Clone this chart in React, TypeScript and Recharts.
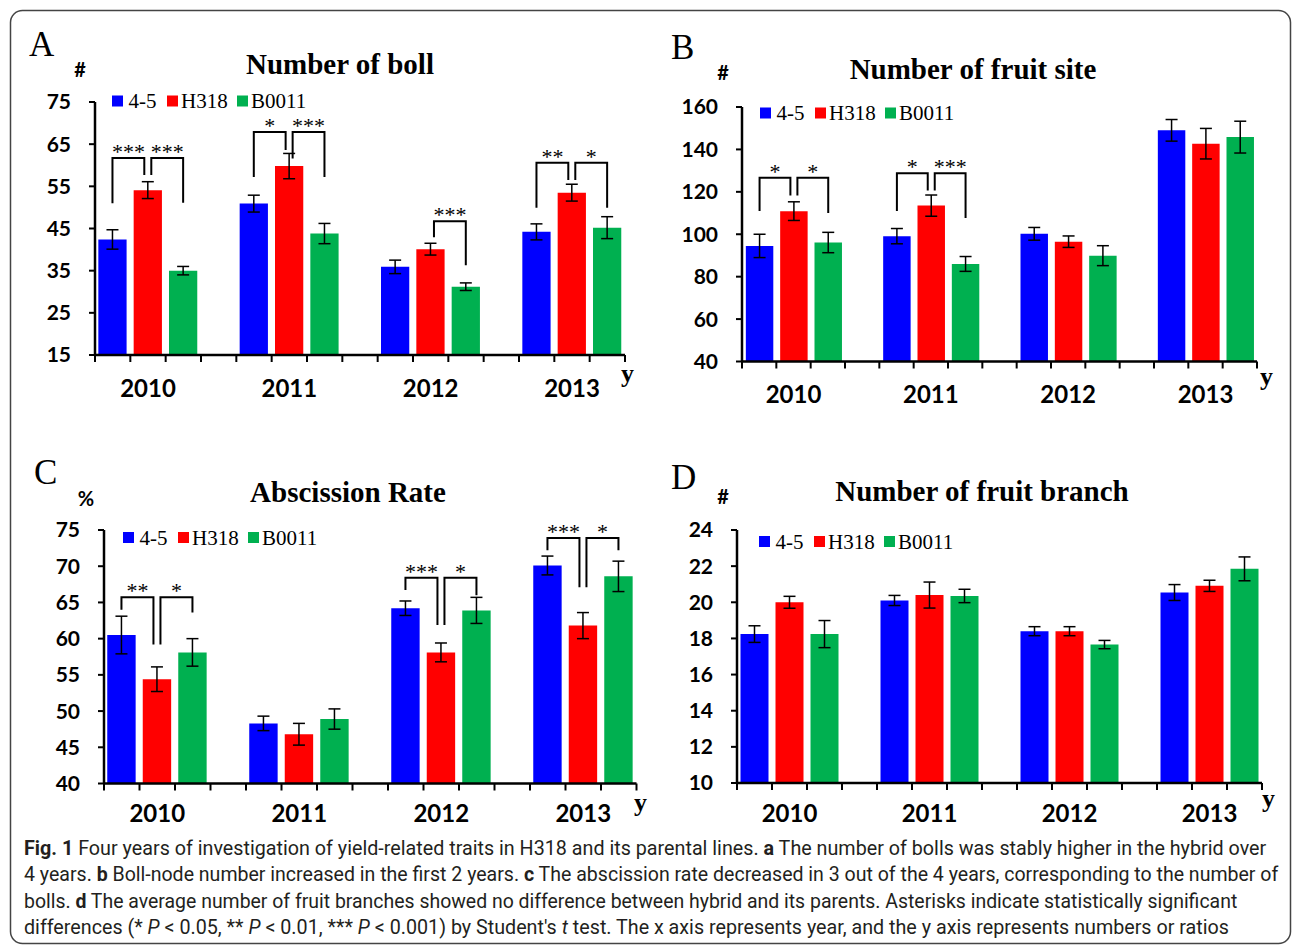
import React, { useLayoutEffect, useRef, useState } from 'react';
import { BarChart, Bar, XAxis, YAxis, ErrorBar } from 'recharts';

// ---------- shared ----------
const years = ['2010', '2011', '2012', '2013'];
const seriesNames = ['4-5', 'H318', 'B0011'];
const seriesColors = ['#0000FF', '#FF0000', '#00B050'];

// ---------- Panel A: Number of boll ----------
const bollMean45 = [42.4, 50.9, 35.9, 44.2];
const bollMeanH318 = [54.1, 59.8, 40.1, 53.5];
const bollMeanB0011 = [35.0, 43.8, 31.2, 45.2];
const bollErr45 = [2.3, 2.0, 1.6, 1.9];
const bollErrH318 = [2.0, 3.0, 1.4, 2.0];
const bollErrB0011 = [1.0, 2.4, 0.9, 2.6];
const bollTicks = [15, 25, 35, 45, 55, 65, 75];
const bollBrackets = [
  { year: 0, side: 'L', stars: '***', top: 61.7, outer: 51.0, inner: 57.7 },
  { year: 0, side: 'R', stars: '***', top: 61.7, outer: 51.1, inner: 57.7 },
  { year: 1, side: 'L', stars: '*', top: 67.9, outer: 57.2, inner: 63.6 },
  { year: 1, side: 'R', stars: '***', top: 67.9, outer: 57.2, inner: 61.6 },
  { year: 2, side: 'R', stars: '***', top: 46.7, outer: 36.3, inner: 42.9 },
  { year: 3, side: 'L', stars: '**', top: 60.6, outer: 49.9, inner: 56.5 },
  { year: 3, side: 'R', stars: '*', top: 60.6, outer: 49.9, inner: 56.5 },
];

// ---------- Panel B: Number of fruit site ----------
const siteMean45 = [94.5, 99.1, 100.2, 149.0];
const siteMeanH318 = [110.9, 113.5, 96.5, 142.7];
const siteMeanB0011 = [96.1, 86.0, 89.9, 145.8];
const siteErr45 = [5.5, 3.6, 3.0, 5.1];
const siteErrH318 = [4.4, 5.0, 2.7, 7.2];
const siteErrB0011 = [4.8, 3.5, 4.7, 7.5];
const siteTicks = [40, 60, 80, 100, 120, 140, 160];
const siteBrackets = [
  { year: 0, side: 'L', stars: '*', top: 126.6, outer: 111, inner: 118.3 },
  { year: 0, side: 'R', stars: '*', top: 126.6, outer: 110, inner: 118.3 },
  { year: 1, side: 'L', stars: '*', top: 128.8, outer: 111, inner: 120.6 },
  { year: 1, side: 'R', stars: '***', top: 128.8, outer: 107.7, inner: 120.6 },
];

// ---------- Panel C: Abscission Rate ----------
const absMean45 = [60.5, 48.3, 64.2, 70.1];
const absMeanH318 = [54.4, 46.8, 58.1, 61.8];
const absMeanB0011 = [58.1, 48.9, 63.9, 68.6];
const absErr45 = [2.6, 1.0, 1.0, 1.3];
const absErrH318 = [1.7, 1.5, 1.3, 1.8];
const absErrB0011 = [1.9, 1.4, 1.8, 2.1];
const absTicks = [40, 45, 50, 55, 60, 65, 70, 75];
const absBrackets = [
  { year: 0, side: 'L', stars: '**', top: 65.7, outer: 64.0, inner: 59.2 },
  { year: 0, side: 'R', stars: '*', top: 65.7, outer: 63.6, inner: 59.2 },
  { year: 2, side: 'L', stars: '***', top: 68.4, outer: 66.7, inner: 61.9 },
  { year: 2, side: 'R', stars: '*', top: 68.4, outer: 66.0, inner: 61.9 },
  { year: 3, side: 'L', stars: '***', top: 73.9, outer: 72.2, inner: 67.1 },
  { year: 3, side: 'R', stars: '*', top: 73.9, outer: 72.2, inner: 67.1 },
];

// ---------- Panel D: Number of fruit branch ----------
const branchMean45 = [18.24, 20.1, 18.4, 20.54];
const branchMeanH318 = [20.0, 20.4, 18.4, 20.91];
const branchMeanB0011 = [18.24, 20.35, 17.66, 21.85];
const branchErr45 = [0.46, 0.28, 0.25, 0.44];
const branchErrH318 = [0.33, 0.72, 0.25, 0.31];
const branchErrB0011 = [0.75, 0.37, 0.23, 0.66];
const branchTicks = [10, 12, 14, 16, 18, 20, 22, 24];
const branchBrackets: any[] = [];

// ---------- caption ----------
const captionLines = [
  [['b', 'Fig. 1'], ['n', ' Four years of investigation of yield-related traits in H318 and its parental lines. '], ['b', 'a'], ['n', ' The number of bolls was stably higher in the hybrid over']],
  [['n', '4 years. '], ['b', 'b'], ['n', ' Boll-node number increased in the first 2 years. '], ['b', 'c'], ['n', ' The abscission rate decreased in 3 out of the 4 years, corresponding to the number of']],
  [['n', 'bolls. '], ['b', 'd'], ['n', ' The average number of fruit branches showed no difference between hybrid and its parents. Asterisks indicate statistically significant']],
  [['n', 'differences (* '], ['i', 'P'], ['n', ' < 0.05, ** '], ['i', 'P'], ['n', ' < 0.01, *** '], ['i', 'P'], ['n', " < 0.001) by Student's "], ['i', 't'], ['n', ' test. The x axis represents year, and the y axis represents numbers or ratios']],
];
const captionWidths = [1242, 1254, 1213, 1205];
const captionBaselines = [855, 881, 908, 934];

// ---------- panel configs ----------
const panels = [
  {
    key: 'A', letter: 'A', letterPos: [29, 56], unit: '#', unitPos: [80, 77],
    title: 'Number of boll', titlePos: [340, 74],
    plot: { left: 95, right: 625, top: 102, bottom: 355 },
    domain: [15, 75], ticks: bollTicks,
    means: [bollMean45, bollMeanH318, bollMeanB0011],
    errs: [bollErr45, bollErrH318, bollErrB0011],
    brackets: bollBrackets, yearDy: 42, legend: [112, 101], yPos: [621, 382],
  },
  {
    key: 'B', letter: 'B', letterPos: [671, 59], unit: '#', unitPos: [723, 80],
    title: 'Number of fruit site', titlePos: [973, 79],
    plot: { left: 742, right: 1257, top: 106.5, bottom: 361 },
    domain: [40, 160], ticks: siteTicks,
    means: [siteMean45, siteMeanH318, siteMeanB0011],
    errs: [siteErr45, siteErrH318, siteErrB0011],
    brackets: siteBrackets, yearDy: 41, legend: [760, 113], yPos: [1260, 385],
  },
  {
    key: 'C', letter: 'C', letterPos: [34, 484], unit: '%', unitPos: [86, 506],
    title: 'Abscission Rate', titlePos: [348, 502],
    plot: { left: 103.5, right: 636, top: 530, bottom: 783.5 },
    domain: [40, 75], ticks: absTicks,
    means: [absMean45, absMeanH318, absMeanB0011],
    errs: [absErr45, absErrH318, absErrB0011],
    brackets: absBrackets, yearDy: 38, legend: [123, 537.5], yPos: [634, 811],
  },
  {
    key: 'D', letter: 'D', letterPos: [671, 489], unit: '#', unitPos: [723, 504],
    title: 'Number of fruit branch', titlePos: [982, 501],
    plot: { left: 737, right: 1262, top: 530, bottom: 783 },
    domain: [10, 24], ticks: branchTicks,
    means: [branchMean45, branchMeanH318, branchMeanB0011],
    errs: [branchErr45, branchErrH318, branchErrB0011],
    brackets: branchBrackets, yearDy: 39, legend: [759, 541.5], yPos: [1262, 807],
  },
];

const YW = 90;
const MT = 25;
const XH = 50;
const MR = 10;

function Panel({ cfg }: { cfg: any }) {
  const { plot, domain, ticks, means, errs, brackets, yearDy } = cfg;
  const plotW = plot.right - plot.left;
  const plotH = plot.bottom - plot.top;
  const slot = plotW / 15;
  const data = years.map((y, i) => ({
    year: y,
    s0: means[0][i], s1: means[1][i], s2: means[2][i],
    e0: errs[0][i], e1: errs[1][i], e2: errs[2][i],
  }));

  const renderYearTick = (p: any) => {
    const { x, y, payload } = p;
    const offs = [-1.5, -0.5, 0.5, 1.5];
    return (
      <g>
        {offs.map((o) => (
          <line key={o} x1={x + o * slot} x2={x + o * slot} y1={y} y2={y + 7} stroke="#000" strokeWidth={2} />
        ))}
        <text x={x} y={y + yearDy} textAnchor="middle" fontFamily="Lato" fontWeight={700} fontSize={24} fill="#000">
          {payload.value}
        </text>
      </g>
    );
  };

  const renderBrackets = (p: any) => {
    const vb = p.viewBox && typeof p.viewBox.x === 'number' ? p.viewBox : p;
    const bx = Number(vb.x), by = Number(vb.y), bw = Number(vb.width), bh = Number(vb.height);
    const idx = typeof p.index === 'number' ? p.index : means[1].indexOf(Number(p.value));
    const value = means[1][idx];
    if (idx < 0 || !isFinite(bx) || !isFinite(bh)) return <g />;
    const bottom = Math.max(by, by + bh);
    const k = Math.abs(bh) / (value - domain[0]);
    const yPx = (v: number) => bottom - (v - domain[0]) * k;
    const cx = bx + bw / 2;
    const items = brackets.filter((b: any) => b.year === idx);
    return (
      <g>
        {items.map((b: any, j: number) => {
          const outerX = b.side === 'L' ? cx - slot : cx + slot;
          const innerX = b.side === 'L' ? cx - 3.5 : cx + 3.5;
          const yt = yPx(b.top);
          const midX = (outerX + innerX) / 2;
          return (
            <g key={j}>
              <polyline
                points={`${outerX},${yPx(b.outer)} ${outerX},${yt} ${innerX},${yt} ${innerX},${yPx(b.inner)}`}
                fill="none" stroke="#000" strokeWidth={2}
              />
              <text x={midX} y={yt + 1} textAnchor="middle" fontFamily="'Liberation Serif', serif" fontSize={22} fill="#000">
                {b.stars}
              </text>
            </g>
          );
        })}
      </g>
    );
  };

  return (
    <div style={{ position: 'absolute', left: plot.left - YW, top: plot.top - MT }}>
      <BarChart
        width={plotW + YW + MR}
        height={plotH + MT + XH}
        data={data}
        margin={{ top: MT, right: MR, bottom: 0, left: 0 }}
        barGap={slot * 0.2}
      >
        <XAxis
          dataKey="year"
          type="category"
          interval={0}
          padding={{ left: -slot / 2, right: -slot / 2 }}
          axisLine={{ stroke: '#000', strokeWidth: 2.5 }}
          tickLine={false}
          tickSize={0}
          tickMargin={0}
          height={XH}
          tick={renderYearTick}
        />
        <YAxis
          type="number"
          domain={domain}
          ticks={ticks}
          interval={0}
          width={YW}
          allowDataOverflow
          axisLine={{ stroke: '#000', strokeWidth: 2.5 }}
          tickLine={{ stroke: '#000', strokeWidth: 2 }}
          tickSize={6}
          tickMargin={18}
          tick={{ fontFamily: 'Lato', fontWeight: 700, fontSize: 21, fill: '#000' }}
        />
        {[0, 1, 2].map((si) => (
          <Bar
            key={si}
            dataKey={'s' + si}
            name={seriesNames[si]}
            fill={seriesColors[si]}
            barSize={slot * 0.8}
            isAnimationActive={false}
            label={si === 1 ? renderBrackets : false}
          >
            <ErrorBar dataKey={'e' + si} width={6} stroke="#000" strokeWidth={1.5} direction="y" />
          </Bar>
        ))}
      </BarChart>
    </div>
  );
}

function Legend2({ x, cy }: { x: number; cy: number }) {
  const sq = [0, 55, 125];
  const tx = [16.5, 69, 139];
  return (
    <g>
      {seriesNames.map((n, i) => (
        <g key={n}>
          <rect x={x + sq[i]} y={cy - 5.5} width={11} height={11} fill={seriesColors[i]} />
          <text x={x + tx[i]} y={cy + 7} fontFamily="'Liberation Serif', serif" fontSize={21} fill="#000">{n}</text>
        </g>
      ))}
    </g>
  );
}

function CaptionLine({ parts, width, baseline }: { parts: string[][]; width: number; baseline: number }) {
  const ref = useRef<SVGTextElement>(null);
  const [sx, setSx] = useState(0.88);
  useLayoutEffect(() => {
    if (ref.current) {
      const w = ref.current.getComputedTextLength();
      if (w > 0) setSx(width / w);
    }
  }, [width]);
  return (
    <g transform={`translate(24, ${baseline}) scale(${sx}, 1)`}>
      <text ref={ref} x={0} y={0} fontFamily="Roboto, 'Open Sans', sans-serif" fontSize={20} fill="#231f20">
        {parts.map((p, i) => (
          <tspan key={i} fontWeight={p[0] === 'b' ? 700 : 400} fontStyle={p[0] === 'i' ? 'italic' : 'normal'}>{p[1]}</tspan>
        ))}
      </text>
    </g>
  );
}

export default function App() {
  return (
    <div style={{ position: 'relative', width: 1293, height: 947, background: '#fff', overflow: 'hidden' }}>
      <style>{'body{margin:0;}'}</style>
      <svg width={1293} height={947} style={{ position: 'absolute', left: 0, top: 0 }}>
        <rect x={10.5} y={10.5} width={1280} height={933} rx={12} ry={12} fill="none" stroke="#444" strokeWidth={1.5} />
        {panels.map((p) => (
          <g key={p.key}>
            <text x={p.letterPos[0]} y={p.letterPos[1]} fontFamily="'Liberation Serif', serif" fontSize={35} fill="#000">{p.letter}</text>
            <text x={p.unitPos[0]} y={p.unitPos[1]} textAnchor="middle" fontFamily="Lato" fontWeight={700} fontSize={20} fill="#000">{p.unit}</text>
            <text x={p.titlePos[0]} y={p.titlePos[1]} textAnchor="middle" fontFamily="'Liberation Serif', serif" fontWeight={700} fontSize={29} fill="#000">{p.title}</text>
            <text x={p.yPos[0]} y={p.yPos[1]} fontFamily="'Liberation Serif', serif" fontWeight={700} fontSize={26} fill="#000">y</text>
            <Legend2 x={p.legend[0]} cy={p.legend[1]} />
          </g>
        ))}
        {captionLines.map((parts, i) => (
          <CaptionLine key={i} parts={parts} width={captionWidths[i]} baseline={captionBaselines[i]} />
        ))}
      </svg>
      {panels.map((p) => (
        <Panel key={p.key} cfg={p} />
      ))}
    </div>
  );
}
